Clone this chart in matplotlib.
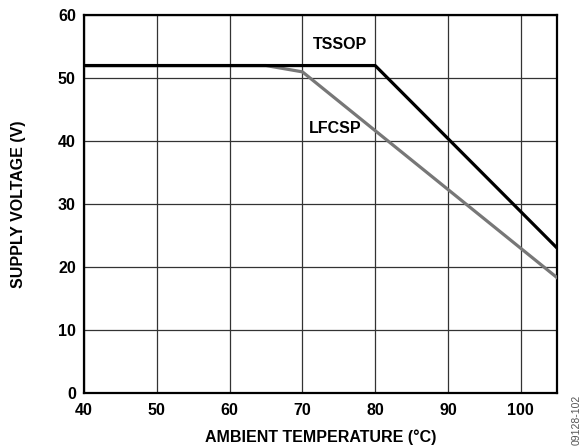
import matplotlib
matplotlib.use('Agg')
import matplotlib.pyplot as plt

plt.rcParams['font.family'] = ['Liberation Sans', 'DejaVu Sans']

# derating curves
tssop_temp = [40, 80, 105]
tssop_volt = [52, 52, 23]
lfcsp_temp = [40, 65, 70, 105]
lfcsp_volt = [52, 52, 51, 18.3]

x_ticks = [40, 50, 60, 70, 80, 90, 100]
y_ticks = [0, 10, 20, 30, 40, 50, 60]

fig = plt.figure(figsize=(5.84, 4.47), dpi=100)
ax = fig.add_axes([0.144, 0.121, 0.81, 0.845])

ax.plot(lfcsp_temp, lfcsp_volt, color='#777777', linewidth=2.3, zorder=3)
ax.plot(tssop_temp, tssop_volt, color='black', linewidth=2.3, zorder=4)

ax.text(75.2, 55.3, 'TSSOP', fontsize=11.5, fontweight='bold', ha='center', va='center')
ax.text(74.5, 42.0, 'LFCSP', fontsize=11.5, fontweight='bold', ha='center', va='center')

ax.set_xlim(40, 105)
ax.set_ylim(0, 60)
ax.set_xticks(x_ticks)
ax.set_yticks(y_ticks)
ax.grid(True, color='#333333', linewidth=0.9)
ax.tick_params(length=0, labelsize=11.5)
ax.tick_params(axis='x', pad=7)
ax.tick_params(axis='y', pad=6)
for lab in ax.get_xticklabels() + ax.get_yticklabels():
    lab.set_fontweight('bold')
for s in ax.spines.values():
    s.set_linewidth(1.6)

ax.set_xlabel('AMBIENT TEMPERATURE (°C)', fontsize=11.5, fontweight='bold')
ax.set_ylabel('SUPPLY VOLTAGE (V)', fontsize=11.5, fontweight='bold')
ax.xaxis.set_label_coords(0.5, -0.116)
ax.yaxis.set_label_coords(-0.139, 0.5)
ax.xaxis.label.set_va('center')
ax.yaxis.label.set_va('center')

fig.text(0.987, 0.06, '09128-102', rotation=90, fontsize=7.5, color='#555555',
         ha='center', va='center')

fig.savefig('out.png', dpi=100)
